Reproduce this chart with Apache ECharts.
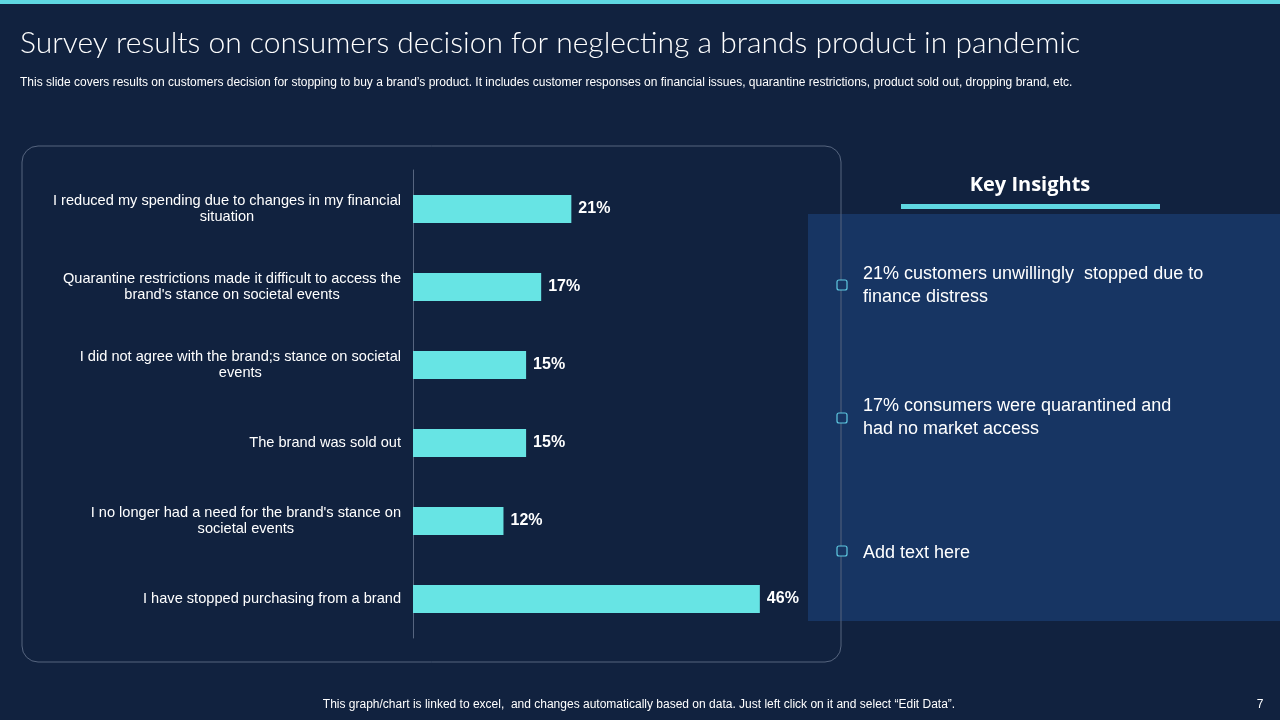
<!DOCTYPE html>
<html>
<head>
<meta charset="utf-8">
<script src="https://cdn.jsdelivr.net/npm/echarts@6/dist/echarts.min.js"></script>
<style>
  html, body { margin: 0; padding: 0; background: #11223f; }
  #chart { width: 1280px; height: 720px; }
</style>
</head>
<body>
<div id="chart"></div>
<script>
// survey answers, top to bottom
const reasons = [
  "I reduced my spending due to changes in my financial\nsituation",
  "Quarantine restrictions made it difficult to access the\nbrand's stance on societal events",
  "I did not agree with the brand;s stance on societal\nevents",
  "The brand was sold out",
  "I no longer had a need for the brand's stance on\nsocietal events",
  "I have stopped purchasing from a brand"
];
const shares = [21, 17, 15, 15, 12, 46];

const insights = [
  "21% customers unwillingly  stopped due to\nfinance distress",
  "17% consumers were quarantined and\nhad no market access",
  "Add text here"
];

const titleText = "Survey results on consumers decision for neglecting a brands product in pandemic";
const subText = "This slide covers results on customers decision for stopping to buy a brand\u2019s product. It includes customer responses on financial issues, quarantine restrictions, product sold out, dropping brand, etc.";
const footText = "This graph/chart is linked to excel,  and changes automatically based on data. Just left click on it and select \u201cEdit Data\u201d.";

const chart = echarts.init(document.getElementById("chart"));

const insightY = [286, 418, 553];
const markerY = [285, 418, 551];

const graphics = [
  { type: "rect", shape: { x: 0, y: 0, width: 1280, height: 4 }, style: { fill: "#5fd8e2" }, z: 0 },
  { type: "rect", shape: { x: 808, y: 214, width: 472, height: 407 }, style: { fill: "#173563" }, z: 0 },
  { type: "rect", shape: { x: 22, y: 146, width: 819, height: 516, r: 16 },
    style: { fill: "none", stroke: "#56657f", lineWidth: 1 }, z: 1 },
  { type: "text", x: 1030, y: 185, style: { text: "Key Insights", fill: "#ffffff",
      font: "bold 20px 'Open Sans', Arial", align: "center", verticalAlign: "middle" }, z: 2 },
  { type: "rect", shape: { x: 901, y: 204, width: 259, height: 5 }, style: { fill: "#5fd8e2" }, z: 2 },
  { type: "text", x: 20, y: 43, style: { text: titleText, fill: "#ffffff",
      font: "300 30px Lato, 'Open Sans', sans-serif", verticalAlign: "middle" }, z: 2 },
  { type: "text", x: 20, y: 83, style: { text: subText, fill: "#ffffff",
      font: "12px Arial, 'Liberation Sans'", verticalAlign: "middle" }, z: 2 },
  { type: "text", x: 639, y: 705, style: { text: footText, fill: "#ffffff",
      font: "12px Arial, 'Liberation Sans'", align: "center", verticalAlign: "middle" }, z: 2 },
  { type: "text", x: 1260, y: 705, style: { text: "7", fill: "#ffffff",
      font: "12px Arial", align: "center", verticalAlign: "middle" }, z: 2 }
];

insights.forEach(function (t, i) {
  graphics.push({ type: "text", x: 863, y: insightY[i], style: { text: t, fill: "#ffffff",
      font: "18px Arial, 'Liberation Sans'", lineHeight: 23, verticalAlign: "middle" }, z: 2 });
  graphics.push({ type: "rect", shape: { x: 837, y: markerY[i] - 5, width: 10, height: 10, r: 2 },
      style: { fill: "#173563", stroke: "#5fc9e2", lineWidth: 1.2 }, z: 3 });
});

chart.setOption({
  backgroundColor: "#11223f",
  animation: false,
  graphic: graphics,
  grid: { left: 413, top: 170, width: 377, height: 468 },
  xAxis: { type: "value", min: 0, max: 50, show: false },
  yAxis: {
    type: "category",
    inverse: true,
    data: reasons,
    axisLine: { show: true, lineStyle: { color: "#56657f", width: 1 } },
    axisTick: { show: false },
    axisLabel: {
      margin: 12,
      color: "#ffffff",
      fontFamily: "Arial",
      fontSize: 14.6,
      lineHeight: 16.5,
      formatter: function (v) {
        return v.split("\n").map(function (l) { return "{c|" + l + "}"; }).join("\n");
      },
      rich: { c: { align: "center", color: "#ffffff", fontFamily: "Arial", fontSize: 14.6, lineHeight: 16.5 } }
    }
  },
  series: [{
    type: "bar",
    data: shares,
    barWidth: 28,
    itemStyle: { color: "#67e4e4" },
    label: {
      show: true,
      position: "right",
      distance: 7,
      color: "#ffffff",
      fontFamily: "Arial",
      fontWeight: "bold",
      fontSize: 16,
      formatter: "{c}%"
    }
  }]
});

window.addEventListener("resize", function () { chart.resize(); });
</script>
</body>
</html>
